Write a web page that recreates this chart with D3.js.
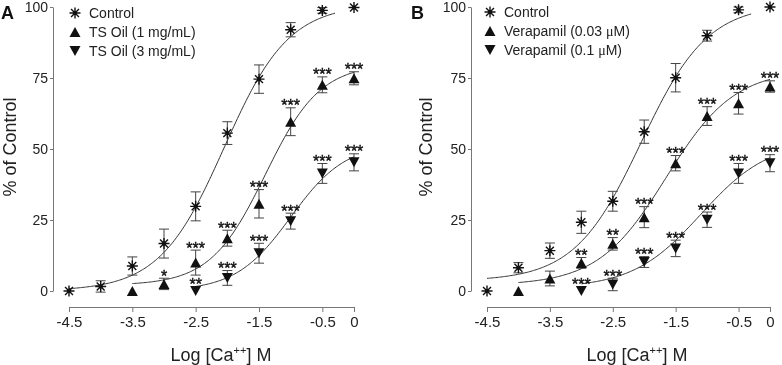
<!DOCTYPE html>
<html lang="en">
<head>
<meta charset="utf-8">
<title>Ca++ concentration-response</title>
<script src="https://cdn.jsdelivr.net/npm/d3@7"></script>
<style>
  body { margin: 0; background: #fff; }
  svg { font-family: "Liberation Sans", Arial, sans-serif; filter: grayscale(1); }
  .axis path, .axis line { stroke: #777; stroke-width: 1; }
  .axis text { fill: #222; font-size: 15px; font-family: "Liberation Sans", Arial, sans-serif; }
  .yaxis text { font-size: 14px; }
  .sig { fill: #111; stroke: #111; stroke-width: 0.4; }
</style>
</head>
<body>
<script>
// shared ticks
const xTicks = [-4.5, -3.5, -2.5, -1.5, -0.5, 0];
const yTicks = [0, 25, 50, 75, 100];

// Panel A
const aControlX = [-4.5, -4, -3.5, -3, -2.5, -2, -1.5, -1, -0.5, 0];
const aControlY = [0, 1.6, 8.8, 16.7, 29.8, 55.6, 74.6, 92, 98.8, 99.8];
const aControlErr = [0, 2, 3.2, 5.1, 5.1, 4, 5, 2.5, 1, 0];
const aControlFit = [0, 101, -2.05, 0.85, -4.5, -0.3]; // bottom, top, logEC50, slope, from, to

const aTs1X = [-3.5, -3, -2.5, -2, -1.5, -1, -0.5, 0];
const aTs1Y = [0, 2.5, 10, 18.6, 30.7, 59.6, 72.6, 74.9];
const aTs1Err = [0, 2, 4.4, 2.8, 5, 4.9, 2.8, 2.3];
const aTs1Stars = ["", "*", "***", "***", "***", "***", "***", "***"];
const aTs1Fit = [2, 80, -1.4, 1.0, -3.5, 0];

const aTs3X = [-2.5, -2, -1.5, -1, -0.5, 0];
const aTs3Y = [0, 4.6, 13.3, 24.6, 41.4, 45.3];
const aTs3Err = [0, 2.6, 3.5, 2.8, 3.5, 3];
const aTs3Stars = ["**", "***", "***", "***", "***", "***"];
const aTs3Fit = [0, 52, -1.0, 1.0, -2.5, 0];

// Panel B
const bControlX = [-4.5, -4, -3.5, -3, -2.5, -2, -1.5, -1, -0.5, 0];
const bControlY = [0, 8.2, 14.2, 24.2, 31.6, 56.1, 75.1, 89.9, 99, 100];
const bControlErr = [0, 1.8, 2.7, 3.9, 3.5, 4.1, 5, 1.9, 1, 0];
const bControlFit = [3.5, 101, -2.05, 0.82, -4.5, -0.3];

const bV03X = [-4, -3.5, -3, -2.5, -2, -1.5, -1, -0.5, 0];
const bV03Y = [0, 4.4, 9.9, 16.6, 26, 45, 61.6, 66.1, 72];
const bV03Err = [0, 2.6, 1.9, 2.2, 3.7, 2.7, 3.3, 3.8, 2];
const bV03Stars = ["", "", "**", "**", "***", "***", "***", "***", "***"];
const bV03Fit = [2, 78, -1.65, 0.8, -4, 0];

const bV1X = [-3, -2.5, -2, -1.5, -1, -0.5, 0];
const bV1Y = [0, 2.3, 10.2, 15, 25.1, 41.4, 45];
const bV1Err = [0, 2.2, 1.9, 2.9, 2.7, 3.5, 3];
const bV1Stars = ["***", "***", "***", "***", "***", "***", "***"];
const bV1Fit = [1, 53, -1.1, 0.8, -3, 0];

const legendA = ["Control", "TS Oil (1 mg/mL)", "TS Oil (3 mg/mL)"];
const legendB = [["Control", ""], ["Verapamil (0.03 ", ")"], ["Verapamil (0.1 ", ")"]];

let w = 782, h = 365;
let svg = d3.select("body").append("svg").attr("width", w).attr("height", h);

function hill(f, v) {
  return f[0] + (f[1] - f[0]) / (1 + Math.pow(10, f[3] * (f[2] - v)));
}

function marker(g, type, cx, cy) {
  if (type === "star") {
    let r = 5.5, d = r * 0.72;
    let p = "M" + (cx - r) + "," + cy + "H" + (cx + r) +
      "M" + cx + "," + (cy - r) + "V" + (cy + r) +
      "M" + (cx - d) + "," + (cy - d) + "L" + (cx + d) + "," + (cy + d) +
      "M" + (cx - d) + "," + (cy + d) + "L" + (cx + d) + "," + (cy - d);
    g.append("path").attr("d", p).attr("stroke", "#111").attr("stroke-width", 1.4).attr("fill", "none");
    g.append("circle").attr("cx", cx).attr("cy", cy).attr("r", 2).attr("fill", "#111");
  } else {
    let s = type === "up" ? 1 : -1;
    let p = "M" + (cx - 5.5) + "," + (cy + 5 * s) + "L" + (cx + 5.5) + "," + (cy + 5 * s) +
      "L" + cx + "," + (cy - 5 * s) + "Z";
    g.append("path").attr("d", p).attr("fill", "#111");
  }
}

function drawSeries(g, x, y, xs, ys, errs, stars, fit, type) {
  let pts = d3.range(fit[4], fit[5] + 0.0001, 0.02);
  g.append("path").datum(pts)
    .attr("d", d3.line().x(d => x(d)).y(d => y(hill(fit, d))))
    .attr("fill", "none").attr("stroke", "#333").attr("stroke-width", 1);

  xs.forEach(function(xv, i) {
    let e = errs[i];
    if (e > 0) {
      let cx = x(xv), y1 = y(ys[i] + e), y2 = y(ys[i] - e);
      g.append("path")
        .attr("d", "M" + cx + "," + y1 + "V" + y2 + "M" + (cx - 5) + "," + y1 + "H" + (cx + 5) +
          "M" + (cx - 5) + "," + y2 + "H" + (cx + 5))
        .attr("stroke", "#444").attr("stroke-width", 1).attr("fill", "none");
    }
  });
  xs.forEach(function(xv, i) { marker(g, type, x(xv), y(ys[i])); });

  if (stars) {
    g.selectAll(null).data(xs).enter().append("text")
      .attr("class", "sig")
      .attr("x", d => x(d))
      .attr("y", (d, i) => Math.min(y(ys[i] + errs[i]), y(ys[i]) - 5) + 3.5)
      .attr("text-anchor", "middle")
      .attr("font-size", 16)
      .text((d, i) => stars[i]);
  }
}

function drawPanel(p) {
  let x = d3.scaleLinear().domain([-4.5, 0]).range([p.x0, p.x1]);
  let y = d3.scaleLinear().domain([0, 100]).range([291, 7]);
  let g = svg.append("g");

  g.append("g").attr("class", "axis yaxis").attr("transform", "translate(" + p.yAxisX + ",0)")
    .call(d3.axisLeft(y).tickValues(yTicks).tickSize(3).tickSizeOuter(0).tickPadding(2));
  g.append("g").attr("class", "axis").attr("transform", "translate(0,307)")
    .call(d3.axisBottom(x).tickValues(xTicks).tickFormat(d => String(d))
      .tickSize(5).tickSizeOuter(0).tickPadding(4));

  g.append("text").attr("x", p.letterX).attr("y", 19).attr("font-size", 18)
    .attr("font-weight", "bold").attr("fill", "#111").text(p.letter);

  g.append("text")
    .attr("transform", "translate(" + p.yLabelX + ",147) rotate(-90)")
    .attr("text-anchor", "middle").attr("dominant-baseline", "central")
    .attr("font-size", 18).attr("fill", "#222").text("% of Control");

  let t = g.append("text").attr("x", p.xLabelX).attr("y", 361)
    .attr("text-anchor", "middle").attr("font-size", 18).attr("fill", "#222");
  t.append("tspan").text("Log [Ca");
  t.append("tspan").attr("dy", -7).attr("font-size", 11).text("++");
  t.append("tspan").attr("dy", 7).text("] M");

  p.series.forEach(s => drawSeries(g, x, y, s[0], s[1], s[2], s[3], s[4], s[5]));

  let types = ["star", "up", "down"];
  p.legend.forEach(function(lab, i) {
    let ly = p.legendY[i];
    marker(g, types[i], p.legendX, ly);
    let lt = g.append("text").attr("x", p.legendX + 14).attr("y", ly + 5)
      .attr("font-size", 14).attr("fill", "#222");
    if (Array.isArray(lab)) {
      lt.append("tspan").text(lab[0]);
      if (lab[1]) {
        lt.append("tspan").attr("font-family", "'Liberation Serif', serif").text("\u03bc");
        lt.append("tspan").text("M" + lab[1]);
      }
    } else {
      lt.text(lab);
    }
  });
}

drawPanel({
  letter: "A", letterX: 1, x0: 69, x1: 354, yAxisX: 53, yLabelX: 10, xLabelX: 221,
  legend: legendA, legendX: 75, legendY: [13, 32, 51],
  series: [
    [aControlX, aControlY, aControlErr, null, aControlFit, "star"],
    [aTs1X, aTs1Y, aTs1Err, aTs1Stars, aTs1Fit, "up"],
    [aTs3X, aTs3Y, aTs3Err, aTs3Stars, aTs3Fit, "down"]
  ]
});

drawPanel({
  letter: "B", letterX: 411, x0: 487, x1: 770, yAxisX: 471, yLabelX: 426, xLabelX: 637,
  legend: legendB, legendX: 490, legendY: [12, 31, 50],
  series: [
    [bControlX, bControlY, bControlErr, null, bControlFit, "star"],
    [bV03X, bV03Y, bV03Err, bV03Stars, bV03Fit, "up"],
    [bV1X, bV1Y, bV1Err, bV1Stars, bV1Fit, "down"]
  ]
});
</script>
</body>
</html>
